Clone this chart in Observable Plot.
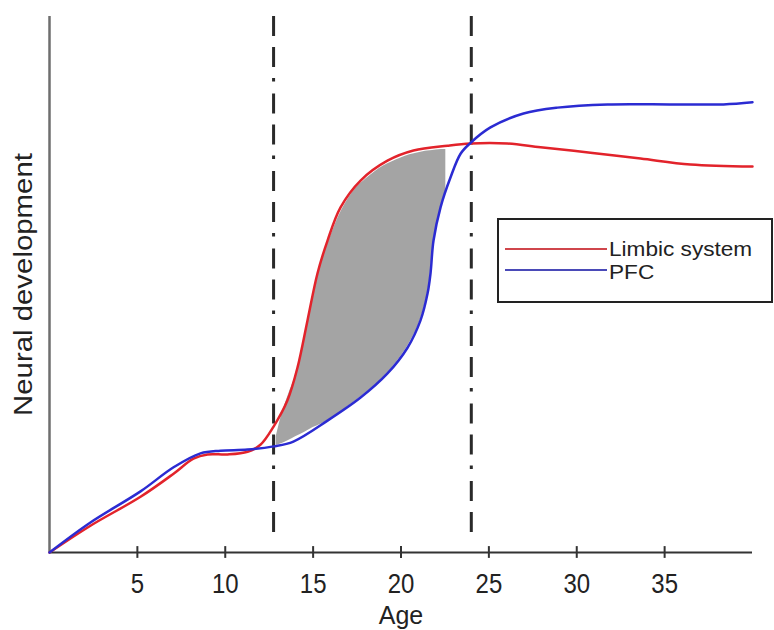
<!DOCTYPE html>
<html>
<head>
<meta charset="utf-8">
<script src="https://cdn.jsdelivr.net/npm/d3@7"></script>
<script src="https://cdn.jsdelivr.net/npm/@observablehq/plot@0.6"></script>
<style>
  html, body { margin: 0; padding: 0; background: #fff; }
  #wrap { position: relative; width: 774px; height: 630px; overflow: hidden; font-family: "Liberation Sans", Arial, Helvetica, sans-serif; }
  #legend { position: absolute; left: 497px; top: 218px; width: 272px; height: 81px; border: 2px solid #222; background: #fff; box-sizing: content-box; }
  .swatch { position: absolute; left: 6px; width: 102px; height: 0; border-top: 2.5px solid; }
  .lab { position: absolute; left: 110px; top: 18px; font-size: 20px; color: #222; transform: scale(1.13, 1); transform-origin: left top; line-height: 22.6px; white-space: nowrap; }
</style>
</head>
<body>
<div id="wrap"></div>
<script>
// ---- data ----
const ageTicks = [5, 10, 15, 20, 25, 30, 35];
const stageBounds = [12.75, 24.0];

const limbicAge = [0, 2.33, 5.18, 7.06, 8.19, 8.99, 10.13, 11.27, 12.0, 12.75, 13.54, 14.11, 14.68, 15.25, 15.82, 16.56, 17.70, 19.23, 20.71, 22.65, 23.95, 26.06, 27.94, 30.78, 33.63, 36.47, 40];
const limbicDev = [0, 5.0, 10.4, 14.7, 17.5, 18.3, 18.3, 18.8, 20.1, 23.5, 28.4, 34.5, 43.3, 52.1, 58.2, 64.4, 69.4, 73.1, 75.0, 75.9, 76.3, 76.3, 75.6, 74.6, 73.5, 72.4, 72.0];

const pfcAge = [0, 2.33, 5.18, 7.06, 8.59, 9.73, 11.27, 12.75, 13.88, 15.82, 17.70, 19.23, 20.37, 21.11, 21.51, 21.68, 21.85, 22.25, 22.82, 23.39, 23.95, 25.09, 26.97, 28.90, 31.75, 35.50, 38.35, 40];
const pfcDev = [0, 5.6, 11.4, 15.9, 18.5, 19.0, 19.2, 19.8, 20.7, 24.6, 28.9, 33.4, 38.2, 43.3, 48.3, 52.1, 58.2, 64.4, 70.0, 74.4, 76.4, 79.3, 81.9, 83.0, 83.6, 83.6, 83.6, 84.0];

// shaded gap between the two systems
const gapAge   = [12.9, 13.2, 13.6, 14.0, 14.5, 15.0, 15.5, 16.0, 16.5, 17.0, 17.5, 18.0, 18.5, 19.0, 19.5, 20.0, 20.5, 21.0, 21.5, 21.8, 22.0, 22.3, 22.55];
const gapUpper = [21.5, 25.5, 29.5, 33, 40, 47.5, 54.5, 59, 63, 66, 68.2, 69.7, 71, 72.1, 72.9, 73.6, 74.2, 74.6, 74.9, 75.0, 75.1, 75.2, 75.2];
const gapLower = [20.0, 20.3, 20.9, 21.6, 22.4, 23.3, 24.0, 25.0, 26.0, 27.3, 28.5, 29.8, 31.1, 32.7, 34.5, 36.6, 39.2, 42.5, 48.2, 56, 60.5, 65, 67.6];

const seriesNames = ["Limbic system", "PFC"];
const seriesColors = ["#e2232b", "#2b2bd2"];
const legendColors = ["#d0464c", "#4a4ab8"];

// ---- tables built from the arrays ----
const limbic = limbicAge.map((a, i) => ({age: a, dev: limbicDev[i]}));
const pfc = pfcAge.map((a, i) => ({age: a, dev: pfcDev[i]}));
const gap = gapAge.map((a, i) => ({age: a, hi: gapUpper[i], lo: gapLower[i]}));

const plot = Plot.plot({
  width: 774,
  height: 630,
  marginLeft: 49,
  marginRight: 22,
  marginTop: 16,
  marginBottom: 78,
  style: {fontFamily: '"Liberation Sans", Arial, Helvetica, sans-serif', fontSize: "24px", color: "#222", background: "#fff", overflow: "visible"},
  x: {domain: [0, 40], ticks: ageTicks, tickSize: 0, tickPadding: 22, label: null},
  y: {domain: [0, 100], axis: null},
  marks: [
    Plot.areaY(gap, {x: "age", y1: "lo", y2: "hi", fill: "#a4a4a4", curve: "catmull-rom"}),
    Plot.ruleX(stageBounds, {x: d => d, y1: 100, y2: 2.7, stroke: "#2a2a2a", strokeWidth: 3, strokeDasharray: "20,11,20,11,3.5,12"}),
    Plot.ruleX([0], {y1: 0, y2: 100, stroke: "#6e6e6e", strokeWidth: 2.5}),
    Plot.ruleY([0], {x1: 0, x2: 40, stroke: "#333", strokeWidth: 2}),
    Plot.ruleX(ageTicks, {x: d => d, y1: -1.1, y2: 1.1, stroke: "#333", strokeWidth: 2}),
    Plot.line(limbic, {x: "age", y: "dev", stroke: seriesColors[0], strokeWidth: 2.5, curve: "catmull-rom"}),
    Plot.line(pfc, {x: "age", y: "dev", stroke: seriesColors[1], strokeWidth: 2.5, curve: "catmull-rom"}),
    Plot.text(["Neural development"], {text: d => d, frameAnchor: "left", textAnchor: "middle", lineAnchor: "middle", dx: -26, rotate: -90, fontSize: 26, fill: "#222"}),
    Plot.text(["Age"], {text: d => d, frameAnchor: "bottom", textAnchor: "middle", lineAnchor: "middle", dy: 63, fontSize: 25, fill: "#222", className: "age-label"})
  ]
});

const wrap = document.getElementById("wrap");
wrap.append(plot);

// the reference's lettering is slightly stretched vertically
d3.select(plot).selectAll("text").each(function () {
  if (this.closest(".age-label")) return;
  const b = this.getBBox();
  const cx = b.x + b.width / 2, cy = b.y + b.height / 2;
  const t = this.getAttribute("transform") || "";
  const rotated = /rotate/.test(t) || /rotate/.test(this.parentNode.getAttribute("transform") || "");
  const s = rotated ? "1.13,1" : "1,1.15";
  this.setAttribute("transform", `${t} translate(${cx},${cy}) scale(${s}) translate(${-cx},${-cy})`);
});

// legend: two swatches and one two-line label
const legend = document.createElement("div");
legend.id = "legend";
seriesNames.forEach((name, i) => {
  const sw = document.createElement("span");
  sw.className = "swatch";
  sw.style.top = (28 + i * 21) + "px";
  sw.style.borderTopColor = legendColors[i];
  legend.append(sw);
});
const lab = document.createElement("div");
lab.className = "lab";
seriesNames.forEach((name, i) => {
  if (i) lab.append(document.createElement("br"));
  lab.append(document.createTextNode(name));
});
legend.append(lab);
wrap.append(legend);
</script>
</body>
</html>
